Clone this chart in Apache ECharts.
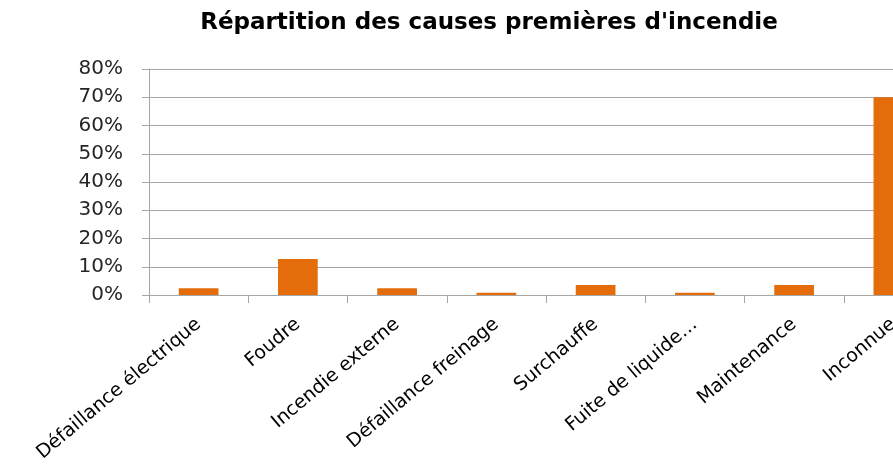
<!DOCTYPE html>
<html>
<head>
<meta charset="utf-8">
<script src="https://cdn.jsdelivr.net/npm/echarts@6/dist/echarts.min.js"></script>
<style>html,body{margin:0;padding:0;background:#fff;overflow:hidden;width:893px;height:468px}#c{width:943px;height:468px}</style>
</head>
<body>
<div id="c"></div>
<script>
const titleText = "Répartition des causes premières d'incendie";
const categories = ["Défaillance électrique", "Foudre", "Incendie externe", "Défaillance freinage", "Surchauffe", "Fuite de liquide…", "Maintenance", "Inconnue"];
const values = [2.4, 12.7, 2.4, 0.8, 3.5, 0.8, 3.5, 70.0];
const yTicks = [0, 10, 20, 30, 40, 50, 60, 70, 80];

const chart = echarts.init(document.getElementById('c'), null, {renderer: 'canvas'});
chart.setOption({
  animation: false,
  backgroundColor: '#fff',
  graphic: [{
    type: 'text', x: 489, y: 23,
    style: {text: titleText, font: 'bold 23px "DejaVu Sans"', fill: '#000', align: 'center', verticalAlign: 'middle'}
  }],
  grid: {left: 149, top: 69, right: 0, bottom: 173, containLabel: false},
  xAxis: {
    type: 'category', data: categories,
    axisLine: {lineStyle: {color: '#a6a6a6', width: 1}},
    axisTick: {show: true, length: 8, lineStyle: {color: '#a6a6a6'}},
    axisLabel: {rotate: 40, margin: 27, fontFamily: 'DejaVu Sans', fontSize: 19, color: '#000', interval: 0}
  },
  yAxis: {
    type: 'value', min: yTicks[0], max: yTicks[yTicks.length - 1], interval: 10,
    axisLine: {show: true, lineStyle: {color: '#a6a6a6'}},
    axisTick: {show: true, length: 7, lineStyle: {color: '#a6a6a6'}},
    splitLine: {lineStyle: {color: '#a6a6a6', width: 1}},
    axisLabel: {formatter: '{value}%', margin: 26, fontFamily: 'DejaVu Sans', fontSize: 20, color: '#262626'}
  },
  series: [{
    type: 'bar', data: values, barWidth: '40%',
    itemStyle: {color: '#E46C0A'}
  }]
});
</script>
</body>
</html>
